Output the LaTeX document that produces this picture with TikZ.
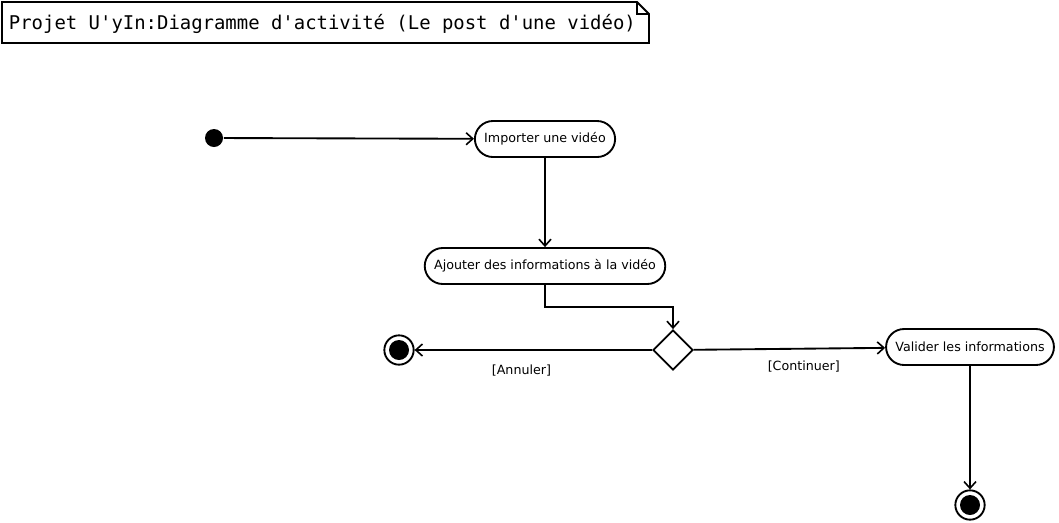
\documentclass[tikz,border=0pt]{standalone}
\usepackage{fontspec}
\setmainfont{DejaVu Sans}
\newfontfamily\notefont{DejaVu Sans Mono}
\usepackage{tikz}
\usetikzlibrary{positioning, arrows.meta, shapes.geometric}
\tikzset{
    x=0.75pt, y=-0.75pt,
    every path/.style={line width=1.4pt},
    >={Straight Barb[length=5pt,width=9pt,line width=1.2pt]},
    activity/.style={
        draw,
        rounded corners=13.5pt,
        minimum height=27pt,
        inner xsep=7pt,
        font=\fontsize{9.5}{11}\selectfont
    },
    startnode/.style={circle, fill, minimum size=13.5pt, inner sep=0pt},
    endnode/.style={
        circle, draw, minimum size=22pt, inner sep=0pt,
        path picture={\fill (path picture bounding box.center) circle (7.5pt);}
    },
    decision/.style={diamond, draw, minimum size=30pt, inner sep=0pt},
    guard/.style={font=\fontsize{9.5}{11}\selectfont}
}

\begin{document}
\begin{tikzpicture}
	\useasboundingbox (0,0) rectangle (1059,522);
	% note
	\draw (2,2) -- (637,2) -- (649,14) -- (649,43) -- (2,43) -- cycle;
	\draw[line width=0.9pt] (637,2) -- (637,14) -- (649,14);
	\node[anchor=west, inner sep=0pt, font=\notefont\fontsize{14.2}{16}\selectfont] (title) at (8,24) {Projet U'yIn:Diagramme d'activité (Le post d'une vidéo)};
	% nodes
	\node[startnode] (start) at (214,138) {};
	\node[activity] (import) at (545,139) {Importer une vidéo};
	\node[activity] (info) at (545,266) {Ajouter des informations à la vidéo};
	\node[decision] (choice) at (673,350) {};
	\node[endnode] (cancel) at (399,350) {};
	\node[activity] (valid) at (970,347) {Valider les informations};
	\node[endnode] (stop) at (970,505) {};
	% flows
	\draw[->] (start) -- (import);
	\draw[->] (import) -- (info);
	\draw[->] (info.south) |- (673,307) -- (choice.north);
	\draw[->] (choice) -- node[guard, pos=0.55, below=7pt] {[Annuler]} (cancel);
	\draw[->] (choice) -- node[guard, pos=0.575, below=5pt] {[Continuer]} (valid);
	\draw[->] (valid) -- (stop);
\end{tikzpicture}
\end{document}
